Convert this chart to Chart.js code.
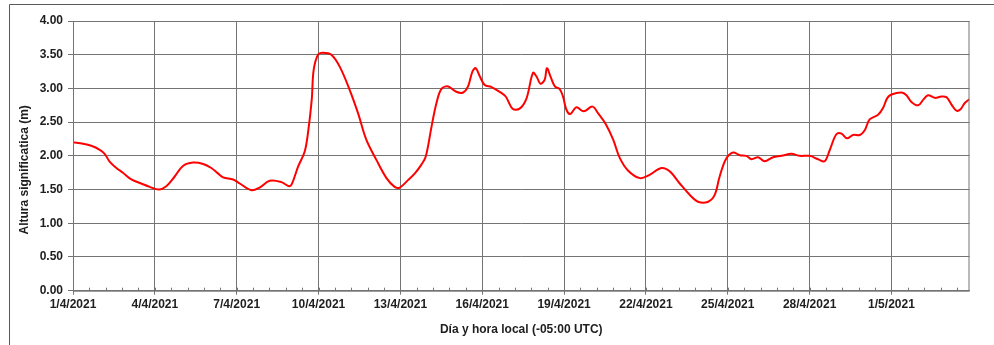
<!DOCTYPE html>
<html lang="es">
<head>
<meta charset="utf-8">
<title>Altura significativa de ola</title>
<script src="https://cdn.jsdelivr.net/npm/chart.js@4.4.1/dist/chart.umd.min.js"></script>
<style>
	html, body { margin: 0; padding: 0; background: #fff; }
	#wrap { width: 994px; height: 345px; }
</style>
</head>
<body>
<div id="wrap"><canvas id="olaChart" width="994" height="345"></canvas></div>
<script>
// Days elapsed since 1/4/2021 00:00 (local time)
var dayOffsets = [
	0.00, 0.37, 0.67, 0.98, 1.16, 1.35, 1.59, 1.83, 2.14, 2.50,
	2.81, 3.15, 3.42, 3.72, 4.03, 4.40, 4.77, 5.07, 5.31, 5.50,
	5.87, 6.11, 6.54, 6.84, 7.21, 7.64, 7.92, 8.02, 8.25, 8.49,
	8.61, 8.75, 8.82, 8.98, 9.16, 9.47, 9.78, 10.14, 10.45, 10.75,
	11.12, 11.49, 11.79, 11.98, 12.28, 12.53, 12.77, 12.93, 13.14, 13.32,
	13.50, 13.75, 14.05, 14.30, 14.48, 14.64, 14.76, 14.91, 15.09, 15.34,
	15.64, 15.86, 16.11, 16.37, 16.62, 16.86, 17.00, 17.13, 17.29, 17.37,
	17.50, 17.66, 17.84, 17.96, 18.09, 18.23, 18.45, 18.72, 19.04, 19.25,
	19.53, 19.80, 20.04, 20.35, 20.78, 21.10, 21.57, 21.87, 22.24, 22.61,
	22.91, 23.28, 23.52, 23.70, 23.93, 24.19, 24.44, 24.68, 24.87, 25.11,
	25.35, 25.66, 25.97, 26.33, 26.64, 27.00, 27.31, 27.55, 27.74, 27.98,
	28.17, 28.37, 28.59, 28.84, 29.02, 29.20, 29.51, 29.69, 29.85, 30.00,
	30.37, 30.55, 30.73, 30.98, 31.16, 31.34, 31.59, 31.83, 32.02, 32.20,
	32.38, 32.53, 32.68, 32.86
];

// Significant wave height (m)
var waveHeights = [
	2.20, 2.18, 2.15, 2.09, 2.03, 1.91, 1.82, 1.75, 1.65, 1.59,
	1.54, 1.50, 1.55, 1.69, 1.85, 1.90, 1.88, 1.82, 1.74, 1.68,
	1.65, 1.59, 1.49, 1.53, 1.63, 1.61, 1.55, 1.58, 1.84, 2.06,
	2.33, 2.83, 3.27, 3.50, 3.53, 3.50, 3.32, 2.98, 2.63, 2.24,
	1.94, 1.67, 1.54, 1.53, 1.64, 1.74, 1.87, 1.99, 2.43, 2.78,
	2.99, 3.03, 2.95, 2.94, 3.03, 3.25, 3.30, 3.18, 3.05, 3.02,
	2.95, 2.88, 2.70, 2.70, 2.85, 3.23, 3.17, 3.07, 3.13, 3.30,
	3.18, 3.03, 2.99, 2.88, 2.68, 2.62, 2.72, 2.66, 2.73, 2.63,
	2.47, 2.24, 1.97, 1.78, 1.67, 1.71, 1.82, 1.77, 1.59, 1.42,
	1.32, 1.32, 1.42, 1.69, 1.95, 2.05, 2.01, 2.00, 1.95, 1.98,
	1.92, 1.98, 2.00, 2.03, 2.00, 2.00, 1.95, 1.92, 2.09, 2.32,
	2.33, 2.26, 2.31, 2.31, 2.38, 2.54, 2.61, 2.71, 2.86, 2.91,
	2.94, 2.90, 2.80, 2.75, 2.83, 2.90, 2.86, 2.88, 2.87, 2.76,
	2.67, 2.69, 2.78, 2.84
];

var xStepDays = 3;       // labelled gridlines every 3 days
var xMinorStep = 0.6;    // small ticks along the bottom axis
var xMaxDays = 32.86;
var yTicks = [0, 0.5, 1, 1.5, 2, 2.5, 3, 3.5, 4];

var labelFont = { family: 'Liberation Sans, Arial, sans-serif', size: 12, weight: 'bold' };
var gridColor = '#747474';
var textColor = '#1e1e1e';

function dayLabel(v) {
	var d = new Date(2021, 3, 1 + Math.round(v));
	return d.getDate() + '/' + (d.getMonth() + 1) + '/' + d.getFullYear();
}

// frame, minor ticks and the y title
var extras = {
	id: 'extras',
	afterDraw: function (chart) {
		var c = chart.ctx, a = chart.chartArea, xs = chart.scales.x;
		c.save();
		c.strokeStyle = '#5a5a5a';
		c.lineWidth = 1;
		c.beginPath();
		c.moveTo(9.5, 345);
		c.lineTo(9.5, 4.5);
		c.lineTo(994, 4.5);
		c.stroke();

		c.strokeStyle = gridColor;
		c.strokeRect(a.left + 0.5, a.top + 0.5, a.right - a.left - 1, a.bottom - a.top);

		c.beginPath();
		for (var t = xMinorStep; t < xMaxDays; t += xMinorStep) {
			var px = Math.round(xs.getPixelForValue(t)) + 0.5;
			c.moveTo(px, a.bottom);
			c.lineTo(px, a.bottom - 3);
		}
		c.stroke();

		c.fillStyle = textColor;
		c.font = 'bold 12px "Liberation Sans", Arial, sans-serif';
		c.textAlign = 'center';
		c.textBaseline = 'middle';
		c.translate(25, (a.top + a.bottom) / 2 + 14);
		c.rotate(-Math.PI / 2);
		c.fillText('Altura significatica (m)', 0, 0);
		c.restore();
	}
};

var ctx = document.getElementById('olaChart').getContext('2d');
var chart = new Chart(ctx, {
	type: 'line',
	data: {
		datasets: [{
			label: 'Hs',
			data: dayOffsets.map(function (d, i) { return { x: d, y: waveHeights[i] }; }),
			borderColor: '#ff0000',
			borderWidth: 2,
			pointRadius: 0,
			fill: false,
			tension: 0.35
		}]
	},
	options: {
		responsive: false,
		animation: false,
		devicePixelRatio: 1,
		layout: { padding: { left: 0, top: 21, right: 24.5, bottom: 0 } },
		plugins: { legend: { display: false }, tooltip: { enabled: false } },
		scales: {
			x: {
				type: 'linear',
				min: 0,
				max: xMaxDays,
				afterFit: function (s) { s.height = 54.3; },
				afterBuildTicks: function (s) {
					var out = [];
					for (var v = 0; v <= xMaxDays; v += xStepDays) out.push({ value: v });
					s.ticks = out;
				},
				grid: { color: gridColor, lineWidth: 1, tickLength: 4 },
				border: { color: gridColor },
				ticks: {
					font: labelFont,
					color: textColor,
					padding: 3,
					maxRotation: 0,
					autoSkip: false,
					callback: function (v) { return dayLabel(v); }
				},
				title: {
					display: true,
					text: 'Día y hora local (-05:00 UTC)',
					font: labelFont,
					color: textColor,
					padding: { top: 0, bottom: 8 }
				}
			},
			y: {
				min: 0,
				max: 4,
				afterFit: function (s) { s.width = 73; },
				afterBuildTicks: function (s) {
					s.ticks = yTicks.map(function (v) { return { value: v }; });
				},
				grid: { color: gridColor, lineWidth: 1, tickLength: 5 },
				border: { color: gridColor },
				ticks: {
					font: labelFont,
					color: textColor,
					padding: 5,
					callback: function (v) { return v.toFixed(2); }
				}
			}
		}
	},
	plugins: [extras]
});
</script>
</body>
</html>
